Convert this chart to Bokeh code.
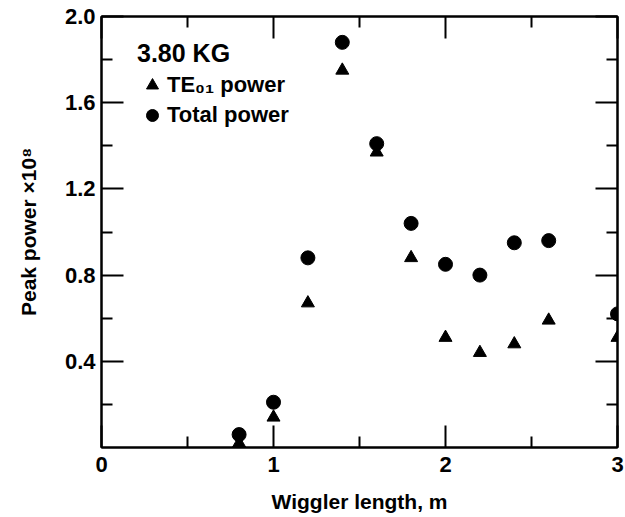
from bokeh.plotting import figure
from bokeh.models import (FixedTicker, LinearAxis, Range1d, Legend, LegendItem,
                          CustomJSTickFormatter, PrintfTickFormatter)
from bokeh.embed import file_html
from bokeh.resources import INLINE

# Data
wiggler_length = [0.8, 1.0, 1.2, 1.4, 1.6, 1.8, 2.0, 2.2, 2.4, 2.6, 3.0]
te01_power = [0.02, 0.14, 0.67, 1.75, 1.37, 0.88, 0.51, 0.44, 0.48, 0.59, 0.51]
total_power = [0.06, 0.21, 0.88, 1.88, 1.41, 1.04, 0.85, 0.80, 0.95, 0.96, 0.62]

x_major = [0, 1, 2, 3]
x_minor = [0.5, 1.5, 2.5]
y_major = [0.4, 0.8, 1.2, 1.6, 2.0]
y_minor = [0.2, 0.6, 1.0, 1.4, 1.8]

FONT = "Liberation Sans"

p = figure(width=625, height=517, output_backend="svg", toolbar_location=None,
           x_range=Range1d(0, 3), y_range=Range1d(0, 2.0),
           min_border_left=101, min_border_right=8, min_border_top=16,
           min_border_bottom=70,
           x_axis_label="Wiggler length, m", y_axis_label="Peak power ×10⁸")

p.xgrid.visible = False
p.ygrid.visible = False
p.outline_line_color = "black"
p.outline_line_width = 2
p.background_fill_color = "white"
p.border_fill_color = "white"


def style_axis(ax, ticks, minor):
    ax.ticker = FixedTicker(ticks=ticks, minor_ticks=minor)
    ax.axis_line_color = "black"
    ax.axis_line_width = 2
    ax.major_tick_line_color = "black"
    ax.major_tick_line_width = 2
    ax.minor_tick_line_color = "black"
    ax.minor_tick_line_width = 2
    ax.major_tick_in = 22
    ax.major_tick_out = 0
    ax.minor_tick_in = 11
    ax.minor_tick_out = 0
    ax.major_label_text_font = FONT
    ax.major_label_text_font_style = "bold"
    ax.major_label_text_font_size = "22px"
    ax.major_label_text_color = "black"
    ax.axis_label_text_font = FONT
    ax.axis_label_text_font_style = "bold"
    ax.axis_label_text_font_size = "21px"
    ax.axis_label_text_color = "black"


style_axis(p.xaxis[0], x_major, x_minor)
style_axis(p.yaxis[0], y_major, y_minor)
p.xaxis[0].formatter = PrintfTickFormatter(format="%d")
p.yaxis[0].formatter = PrintfTickFormatter(format="%.1f")
p.xaxis[0].major_label_standoff = 9
p.xaxis[0].axis_label_standoff = 15
p.yaxis[0].major_label_standoff = 6
p.yaxis[0].axis_label_standoff = 22

top = LinearAxis(formatter=CustomJSTickFormatter(code="return ''"))
style_axis(top, x_major, x_minor)
right = LinearAxis(formatter=CustomJSTickFormatter(code="return ''"))
style_axis(right, y_major, y_minor)
p.add_layout(top, "above")
p.add_layout(right, "right")

tri = p.scatter(wiggler_length, te01_power, marker="triangle", size=13,
                fill_color="black", line_color="black")
circ = p.scatter(wiggler_length, total_power, marker="circle", size=14,
                 fill_color="black", line_color="black")

legend = Legend(items=[LegendItem(label="TE₀₁ power", renderers=[tri]),
                       LegendItem(label="Total power", renderers=[circ])],
                title="3.80 KG", location=(36, 317))
legend.padding = 0
legend.margin = 0
legend.spacing = 0
legend.border_line_color = None
legend.background_fill_alpha = 0
legend.glyph_width = 30
legend.glyph_height = 30
legend.label_height = 30
legend.label_standoff = -10
legend.title_standoff = 2
legend.title_text_font = FONT
legend.title_text_font_style = "bold"
legend.title_text_font_size = "25px"
legend.title_text_color = "black"
legend.label_text_font = FONT
legend.label_text_font_style = "bold"
legend.label_text_font_size = "22px"
legend.label_text_color = "black"
p.add_layout(legend, "center")

open("out.html", "w").write(file_html(p, INLINE))
